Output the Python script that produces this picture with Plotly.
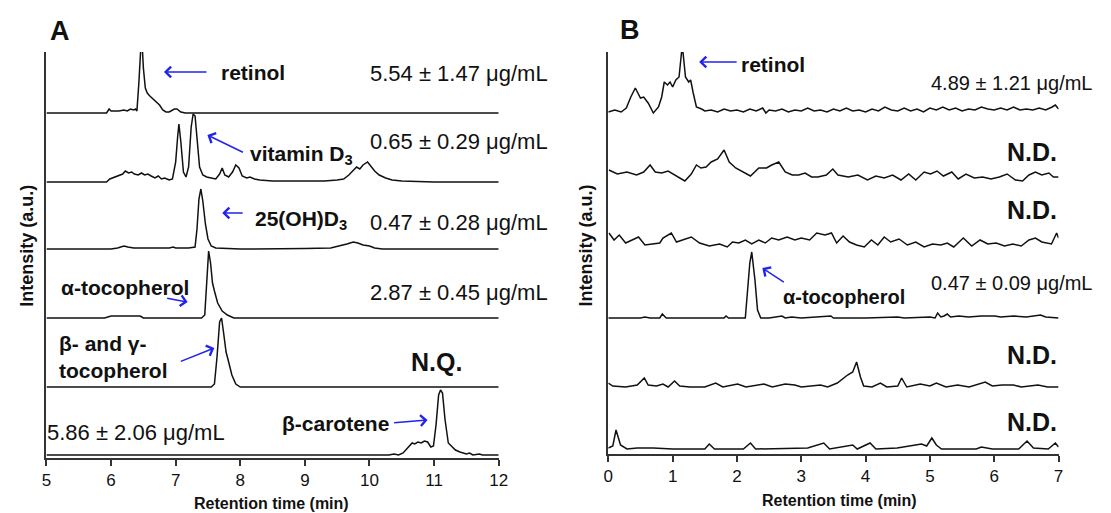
import plotly.graph_objects as go

W, H = 1111, 513
FONT = "Arial, Liberation Sans, sans-serif"
BLUE = "#2222ee"
INK = "#111111"

# ---------------- Panel A data (retention time, min ; intensity above baseline, a.u.) ----------------
a_retinol_t = [5.0, 5.93, 5.97, 6.0, 6.05, 6.12, 6.2, 6.25, 6.3, 6.35, 6.38, 6.4, 6.43, 6.46, 6.48, 6.5,
               6.53, 6.56, 6.6, 6.65, 6.7, 6.75, 6.8, 6.85, 6.9, 6.98, 7.02, 7.08, 7.15, 12.0]
a_retinol_i = [0, 0, 4, 2, 2, 2, 3, 2, 4, 3, 4, 2, 30, 65, 70, 45,
               25, 20, 17, 14, 12, 8, 3, 1, 1, 4, 4, 1, 0, 0]

a_vitd3_t = [5.0, 5.93, 5.98, 6.05, 6.12, 6.18, 6.22, 6.27, 6.32, 6.36, 6.42, 6.47, 6.52, 6.57, 6.62, 6.68,
             6.73, 6.78, 6.83, 6.9, 6.95, 7.0, 7.03, 7.05, 7.08, 7.12, 7.16, 7.2, 7.24, 7.27, 7.3, 7.33,
             7.37, 7.42, 7.48, 7.55, 7.62, 7.68, 7.72, 7.76, 7.82, 7.88, 7.93, 7.98, 8.03, 8.1, 8.15, 8.22,
             8.3, 8.5, 8.8, 9.0, 9.3, 9.5, 9.6, 9.68, 9.75, 9.8, 9.85, 9.9, 9.97, 10.02, 10.08, 10.15,
             10.25, 10.35, 10.5, 11.0, 11.5, 12.0]
a_vitd3_i = [0, 0, 3, 5, 7, 8, 11, 9, 10, 8, 7, 9, 7, 8, 6, 4,
             6, 3, 4, 2, 3, 20, 45, 58, 40, 10, 5, 15, 55, 68, 66, 40,
             15, 7, 5, 4, 3, 8, 14, 7, 5, 10, 17, 14, 6, 4, 5, 3,
             2, 1, 1, 0.5, 1, 2, 3, 7, 12, 15, 13, 17, 20, 16, 11, 7,
             4, 2, 1, 0, 0, 0]

a_25ohd3_t = [5.0, 6.0, 6.1, 6.2, 6.26, 6.35, 6.6, 6.9, 6.96, 7.0, 7.2, 7.3, 7.33, 7.36, 7.39, 7.42,
              7.46, 7.5, 7.55, 7.62, 8.0, 8.5, 9.0, 9.4, 9.55, 9.65, 9.75, 9.82, 9.9, 10.0, 10.08,
              10.2, 12.0]
a_25ohd3_i = [0, 0, 1, 3, 2, 1, 1, 1, 2, 1, 1, 2, 20, 50, 60, 48,
              25, 10, 3, 1, 0, 0, 0.5, 1, 3, 5, 7, 6, 4, 3, 1,
              0, 0]

a_atoco_t = [5.0, 5.9, 6.0, 6.45, 6.5, 7.4, 7.45, 7.48, 7.51, 7.54, 7.57, 7.6, 7.65, 7.72, 7.8, 7.9, 12.0]
a_atoco_i = [0, 0, 2, 2, 0, 0, 3, 40, 67, 55, 35, 27, 15, 7, 3, 0, 0]

a_bgtoco_t = [5.0, 7.55, 7.6, 7.64, 7.68, 7.71, 7.74, 7.78, 7.82, 7.87, 7.93, 8.0, 12.0]
a_bgtoco_i = [0, 0, 3, 30, 65, 69, 55, 35, 25, 12, 3, 0, 0]

a_bcar_t = [5.0, 10.3, 10.38, 10.45, 10.52, 10.6, 10.66, 10.7, 10.75, 10.8, 10.85, 10.9, 10.95, 10.99,
            11.03, 11.07, 11.1, 11.13, 11.17, 11.22, 11.28, 11.33, 11.4, 11.5, 11.55, 11.6, 11.7,
            11.75, 12.0]
a_bcar_i = [0, 0, 1, 0, 2, 8, 12, 11, 13, 12, 14, 13, 8, 9,
            30, 60, 65, 62, 35, 12, 8, 5, 3, 1, 2, 0, 1,
            0, 0]

# ---------------- Panel B data ----------------
b_retinol_t = [0.0, 0.1, 0.2, 0.28, 0.35, 0.42, 0.5, 0.55, 0.62, 0.7, 0.78, 0.83, 0.87, 0.92, 0.96, 1.0,
               1.05, 1.1, 1.15, 1.2, 1.25, 1.28, 1.32, 1.37, 1.45, 1.5, 1.6, 1.7, 1.8, 1.9, 2.0, 2.1,
               2.2, 2.3, 2.4, 2.45, 2.5, 2.6, 2.7, 2.8, 2.9, 3.0, 3.1, 3.2, 3.3, 3.4, 3.5, 3.6, 3.7,
               3.8, 3.9, 4.0, 4.1, 4.2, 4.3, 4.4, 4.5, 4.6, 4.7, 4.8, 4.9, 5.0, 5.1, 5.2, 5.3, 5.4,
               5.5, 5.6, 5.7, 5.8, 5.9, 6.0, 6.1, 6.2, 6.3, 6.4, 6.5, 6.6, 6.7, 6.8, 6.9, 6.95, 7.0]
b_retinol_i = [0, 2, 0, 4, 15, 24, 14, 15, 9, -1, 5, 15, 30, 27, 30, 25,
               32, 35, 67, 35, 30, 32, 19, 5, 3, 1, 2, 0, 3, 1, 2, 0,
               3, 1, 4, -1, 2, 1, 3, 0, 2, 1, 4, 1, 2, 0, 3, 1, 4,
               1, 2, 0, 3, 1, 5, 2, 1, 4, 1, 3, 0, 4, 2, 5, 2, 4,
               1, 3, 2, 5, 3, 2, 4, 2, 5, 2, 3, 2, 4, 2, 5, 7, 3]

b_nd1_t = [0.01, 0.14, 0.29, 0.44, 0.55, 0.65, 0.73, 0.83, 0.93, 1.06, 1.19, 1.29, 1.37, 1.44, 1.52, 1.6,
           1.7, 1.8, 1.88, 1.98, 2.11, 2.21, 2.34, 2.46, 2.54, 2.65, 2.75, 2.86, 2.96, 3.06, 3.16, 3.26,
           3.39, 3.49, 3.57, 3.73, 3.88, 4.03, 4.16, 4.29, 4.42, 4.55, 4.67, 4.78, 4.91, 5.01, 5.11,
           5.21, 5.34, 5.44, 5.56, 5.69, 5.82, 5.95, 6.08, 6.2, 6.33, 6.44, 6.54, 6.64, 6.74, 6.85,
           6.92, 7.0]
b_nd1_i = [10, 6, 8, 5, 8, 15, 8, 7, 9, 4, -1, 6, 15, 12, 13, 18,
           21, 30, 18, 12, 7, 4, 12, 12, 15, 18, 8, 5, 5, 7, 3, 3,
           5, 11, 5, 3, 5, 0, 4, 2, 5, 0, 6, 0, 8, 6, 9,
           4, 8, 1, 6, 2, 3, 1, 3, 6, 0, -1, 5, 8, 5, 7,
           3, 3]

b_nd2_t = [0.01, 0.09, 0.17, 0.27, 0.37, 0.47, 0.57, 0.7, 0.8, 0.85, 0.98, 1.06, 1.16, 1.29, 1.42, 1.57,
           1.73, 1.85, 1.93, 2.03, 2.13, 2.23, 2.34, 2.44, 2.54, 2.65, 2.78, 2.9, 3.0, 3.13, 3.24,
           3.37, 3.47, 3.55, 3.65, 3.75, 3.86, 3.98, 4.09, 4.19, 4.29, 4.39, 4.52, 4.65, 4.78, 4.91,
           5.04, 5.17, 5.27, 5.37, 5.52, 5.65, 5.78, 5.9, 6.03, 6.16, 6.29, 6.42, 6.54, 6.64, 6.74,
           6.83, 6.89, 6.97, 7.0]
b_nd2_i = [14, 7, 12, 4, 7, 10, 2, 3, 4, 9, 14, 5, 7, 10, 4, 1,
           3, 0, 5, 4, 7, 3, 7, 4, 9, 7, 10, 7, 9, 7, 14,
           12, 14, 4, 11, 5, 2, 0, 7, 2, 10, 5, 8, 2, 5, 0,
           3, 2, 4, 0, 9, 1, 7, 3, 4, 1, 3, 1, 7, 9, 5,
           4, 3, 14, 9]

b_atoco_t = [0.0, 0.32, 0.5, 0.57, 0.65, 0.8, 0.84, 0.9, 1.8, 1.83, 1.87, 2.13, 2.17, 2.2, 2.23, 2.26,
             2.28, 2.32, 2.37, 2.5, 2.7, 2.75, 2.85, 3.0, 3.46, 3.5, 4.0, 4.5, 4.6, 5.0, 5.08, 5.12,
             5.17, 5.22, 5.27, 5.32, 5.45, 5.6, 5.8, 6.01, 6.1, 6.3, 6.5, 6.72, 6.8, 7.0]
b_atoco_i = [0, 0, 0, 1, 0, 0, 4, 0, 0, 2, 0, 0, 28, 55, 66, 50,
             38, 8, 0, 0, 2, 0, 1, 0, 2, 0, 0, 1, 0, 1, 0, 5,
             1, 2, 4, 1, 2, 1, 2, 2, 1, 2, 1, 3, 1, 0]

b_nd3_t = [0.0, 0.07, 0.27, 0.45, 0.56, 0.62, 0.75, 0.85, 0.93, 1.03, 1.11, 1.27, 1.5, 1.67, 1.78, 2.01,
           2.14, 2.42, 2.55, 2.75, 2.9, 3.0, 3.3, 3.41, 3.56, 3.72, 3.8, 3.86, 3.92, 3.97, 4.1, 4.23,
           4.33, 4.5, 4.56, 4.64, 4.85, 5.0, 5.1, 5.25, 5.43, 5.61, 5.86, 5.97, 6.12, 6.3, 6.42,
           6.68, 6.83, 7.0]
b_nd3_i = [4, 1, 0, 2, 9, 2, 1, 3, 0, 6, 1, 0, 0, 4, 0, 3,
           0, 3, 0, 3, 2, 0, 2, 0, 4, 12, 15, 25, 10, 1, 0, 4,
           0, 1, 9, 0, 3, 1, 4, 0, 2, 0, 5, 1, 2, 2, 0,
           2, 0, 0]

b_nd4_t = [0.0, 0.07, 0.12, 0.19, 0.29, 0.45, 0.7, 1.0, 1.5, 1.57, 1.65, 2.1, 2.21, 2.29, 3.1, 3.35,
           3.44, 3.8, 3.87, 4.07, 4.16, 4.49, 4.87, 4.95, 5.03, 5.1, 5.18, 5.72, 5.8, 5.97, 6.38,
           6.51, 6.61, 6.84, 6.95, 7.0]
b_nd4_i = [1, 3, 19, 4, 0, 1, 1, 0, 0, 5, 0, 0, 6, 0, 1, 6,
           0, 4, 0, 6, 0, 1, 5, 3, 11, 4, 0, 0, 2, 0, 0,
           8, 1, 0, 6, 2]

x_ticks_a = [5, 6, 7, 8, 9, 10, 11, 12]
x_ticks_b = [0, 1, 2, 3, 4, 5, 6, 7]

# stacking (baseline height of each chromatogram above the x axis, a.u.)
A_SERIES = [(a_retinol_t, a_retinol_i, 345), (a_vitd3_t, a_vitd3_i, 276), (a_25ohd3_t, a_25ohd3_i, 209),
            (a_atoco_t, a_atoco_i, 140), (a_bgtoco_t, a_bgtoco_i, 71), (a_bcar_t, a_bcar_i, 3)]
B_SERIES = [(b_retinol_t, b_retinol_i, 342), (b_nd1_t, b_nd1_i, 274), (b_nd2_t, b_nd2_i, 207),
            (b_atoco_t, b_atoco_i, 136), (b_nd3_t, b_nd3_i, 67), (b_nd4_t, b_nd4_i, 5)]

fig = go.Figure()
for t, i, off in A_SERIES:
    fig.add_trace(go.Scatter(x=t, y=[v + off for v in i], mode="lines",
                             line=dict(color=INK, width=1.5), xaxis="x", yaxis="y",
                             showlegend=False, hoverinfo="skip"))
for t, i, off in B_SERIES:
    fig.add_trace(go.Scatter(x=t, y=[v + off for v in i], mode="lines",
                             line=dict(color=INK, width=1.5), xaxis="x2", yaxis="y2",
                             showlegend=False, hoverinfo="skip"))

axis_common = dict(showgrid=False, zeroline=False, showline=True, linecolor="#333333", linewidth=1.5)
fig.update_layout(
    width=W, height=H, margin=dict(l=0, r=0, t=0, b=0),
    paper_bgcolor="white", plot_bgcolor="white",
    xaxis=dict(domain=[42 / W, 500 / W], range=[5, 12], tickvals=x_ticks_a, ticks="outside",
               ticklen=6, tickwidth=1.5, tickcolor="#333333", anchor="y",
               tickfont=dict(family=FONT, size=17, color=INK), **axis_common),
    yaxis=dict(domain=[1 - 458 / H, 1 - 52 / H], range=[0, 406], showticklabels=False, ticks="",
               anchor="x", **axis_common),
    xaxis2=dict(domain=[611 / W, 1067 / W], range=[0, 7], tickvals=x_ticks_b, ticks="outside",
                ticklen=6, tickwidth=1.5, tickcolor="#333333", anchor="y2",
                tickfont=dict(family=FONT, size=17, color=INK), **axis_common),
    yaxis2=dict(domain=[1 - 454 / H, 1 - 52 / H], range=[0, 402], showticklabels=False, ticks="",
                anchor="x2", **axis_common),
)


def txt(text, x, y, size, bold=False, xanchor="center", angle=0):
    return dict(text=f"<b>{text}</b>" if bold else text, x=x / W, y=1 - y / H, xref="paper",
                yref="paper", showarrow=False, xanchor=xanchor, yanchor="middle", textangle=angle,
                font=dict(family=FONT, size=size, color=INK))


def arrow(xt, yt, xh, yh):
    return dict(text="", x=xh / W, y=1 - yh / H, xref="paper", yref="paper", showarrow=True,
                ax=xt - xh, ay=yt - yh, axref="pixel", ayref="pixel", arrowhead=4, arrowsize=1.4,
                arrowwidth=1.5, arrowcolor=BLUE, standoff=0, startstandoff=0)


ann = [
    # panel A
    txt("A", 56, 31, 27, bold=True),
    txt("retinol", 251, 72, 21, bold=True), arrow(205, 72, 161, 72),
    txt("5.54 ± 1.47 μg/mL", 460, 73, 22),
    txt("vitamin D<sub>3</sub>", 300, 155, 21, bold=True), arrow(242, 153, 205, 135),
    txt("0.65 ± 0.29 μg/mL", 460, 141, 22),
    txt("25(OH)D<sub>3</sub>", 300, 220, 21, bold=True), arrow(242, 213, 220, 213),
    txt("0.47 ± 0.28 μg/mL", 460, 222, 22),
    txt("α-tocopherol", 55, 287, 21, bold=True, xanchor="left"), arrow(163, 298, 185, 302),
    txt("2.87 ± 0.45 μg/mL", 460, 292, 22),
    txt("β- and γ-", 53, 343, 21, bold=True, xanchor="left"),
    txt("tocopherol", 53, 370, 21, bold=True, xanchor="left"), arrow(177, 362, 212, 348),
    txt("N.Q.", 437, 362, 25, bold=True),
    txt("β-carotene", 335, 423, 21, bold=True), arrow(393, 423, 428, 420),
    txt("5.86 ± 2.06 μg/mL", 133, 432, 22),
    txt("Intensity (a.u.)", 22, 246, 18, bold=True, angle=-90),
    txt("Retention time (min)", 270, 503, 16, bold=True),
    # panel B
    txt("B", 633, 30, 27, bold=True),
    txt("retinol", 778, 64, 21, bold=True), arrow(742, 62, 703, 62),
    txt("4.89 ± 1.21 μg/mL", 1019, 83, 20),
    txt("N.D.", 1040, 152, 25, bold=True),
    txt("N.D.", 1040, 210, 25, bold=True),
    txt("α-tocopherol", 850, 297, 20, bold=True), arrow(790, 283, 767, 268),
    txt("0.47 ± 0.09 μg/mL", 1019, 283, 20),
    txt("N.D.", 1040, 355, 25, bold=True),
    txt("N.D.", 1040, 422, 25, bold=True),
    txt("Intensity (a.u.)", 588, 246, 18, bold=True, angle=-90),
    txt("Retention time (min)", 845, 500, 16, bold=True),
]
fig.update_layout(annotations=ann)

fig.write_html("out.html", config={"displayModeBar": False},
               post_script="document.body.style.margin='0';")
